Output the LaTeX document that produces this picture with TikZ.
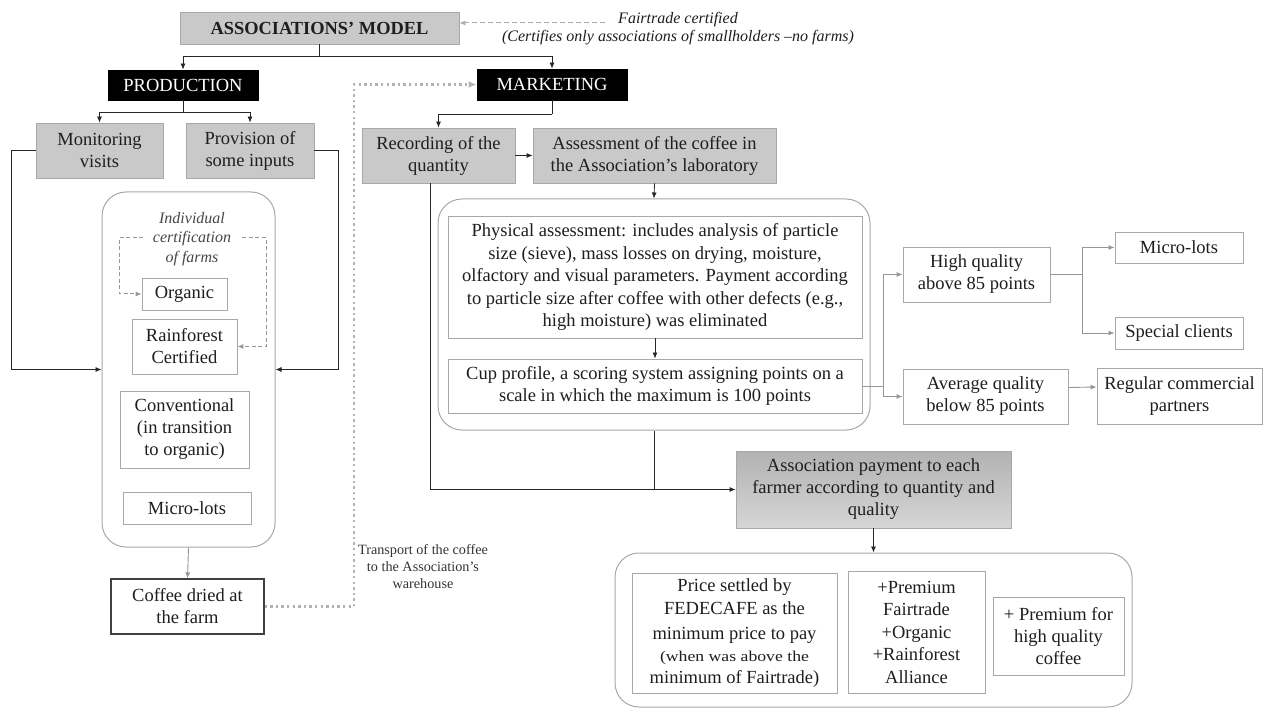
\documentclass[tikz,border=0pt]{standalone}
\usepackage{fontspec}
\setmainfont{Liberation Serif}
\newfontfamily\wideserif[FakeStretch=1.18]{Liberation Serif}
\usetikzlibrary{arrows.meta,calc}

\definecolor{boxgray}{RGB}{201,201,201}
\definecolor{edgegray}{RGB}{168,168,168}
\definecolor{linegray}{RGB}{150,150,150}
\definecolor{dotgray}{RGB}{178,178,178}
\definecolor{inkgray}{RGB}{30,30,30}
\definecolor{shadetop}{RGB}{178,178,178}
\definecolor{shadebot}{RGB}{214,214,214}

\begin{document}
\begin{tikzpicture}[x=1pt,y=-1pt,
  every node/.style={inner sep=0pt, align=center, text=inkgray,
    font=\fontsize{18.5}{22}\selectfont},
  graybox/.style={draw=edgegray, fill=boxgray, line width=0.8pt},
  blackbox/.style={draw=black, fill=black, text=white, line width=0.8pt},
  framebox/.style={draw=edgegray, fill=white, line width=0.9pt},
  container/.style={draw=edgegray, rounded corners=24pt, line width=1pt},
  link/.style={draw=black!85, line width=0.8pt},
  tip/.style={-{Latex[length=6pt,width=5pt]}},
  grayline/.style={draw=linegray, line width=0.9pt},
  grayarr/.style={grayline, -{Latex[length=6pt,width=5pt]}},
  certdash/.style={draw=linegray, line width=1pt, dash pattern=on 4pt off 2.5pt,
    -{Latex[length=6pt,width=5pt]}},
  topdash/.style={draw=linegray!80, line width=1pt, dash pattern=on 5pt off 3pt,
    -{Latex[length=6pt,width=5pt]}},
  dotline/.style={draw=dotgray, line width=2.4pt, dash pattern=on 2.4pt off 3.2pt,
    -{Latex[length=8pt,width=7pt]}},
]
\useasboundingbox (0,0) rectangle (1273,708);

% ---------- top level ----------
\node[graybox, minimum width=279, minimum height=32,
      font=\bfseries\fontsize{18.4}{22}\selectfont] (assoc) at (319.5,28) {ASSOCIATIONS’ MODEL};
\node[font=\itshape\fontsize{16}{18}\selectfont] (fair) at (678,29)
  {Fairtrade certified\\(Certifies only associations of smallholders –no farms)};
\coordinate (fairEnd) at (605,23);

\node[blackbox, minimum width=150, minimum height=30] (prod) at (183,85) {PRODUCTION};
\node[blackbox, minimum width=150, minimum height=31] (mark) at (552,84.5) {MARKETING};

% ---------- production branch ----------
\node[graybox, minimum width=127, minimum height=55] (mon) at (99.5,150.5) {Monitoring\\visits};
\node[graybox, minimum width=128, minimum height=55] (prov) at (250,150.5) {Provision of\\some inputs};

\node[container, minimum width=173, minimum height=355] (farms) at (188.5,369.5) {};
\node[font=\itshape\fontsize{16}{19.5}\selectfont, text=black!72] (certtxt) at (192,239)
  {Individual\\certification\\of farms};
\coordinate (certL) at (143,238);
\coordinate (certR) at (242,238);
\node[framebox, minimum width=85, minimum height=32] (organic) at (184.5,294) {Organic};
\node[framebox, minimum width=105, minimum height=55] (rain) at (184.5,346.5) {Rainforest\\Certified};
\node[framebox, minimum width=129, minimum height=77] (conv) at (184.5,429.5)
  {Conventional\\(in transition\\to organic)};
\node[framebox, minimum width=128, minimum height=32] (lotsL) at (187,508) {Micro-lots};

\node[draw=black!75, fill=white, line width=1.2pt, minimum width=153, minimum height=55]
  (dried) at (187.5,606.5) {Coffee dried at\\the farm};
\node[font=\fontsize{14.2}{17}\selectfont, text=black!80] (transp) at (423,567)
  {Transport of the coffee\\to the Association’s\\warehouse};
\coordinate (dotBend) at (354,84.5);

% ---------- marketing branch ----------
\node[graybox, minimum width=153, minimum height=55] (rec) at (438.5,155.5) {Recording of the\\quantity};
\node[graybox, minimum width=243, minimum height=55] (assess) at (654.5,155.5)
  {Assessment of the coffee in\\the Association’s laboratory};

\node[container, minimum width=432, minimum height=231] (lab) at (654,314.5) {};
\node[framebox, minimum width=414, minimum height=122, font=\fontsize{18.5}{22.5}\selectfont]
  (phys) at (655,277)
  {Physical assessment: includes analysis of particle\\size (sieve), mass losses on drying, moisture,\\olfactory and visual parameters. Payment according\\to particle size after coffee with other defects (e.g.,\\high moisture) was eliminated};
\node[framebox, minimum width=414, minimum height=54] (cup) at (655,386)
  {Cup profile, a scoring system assigning points on a\\scale in which the maximum is 100 points};

\node[framebox, minimum width=147, minimum height=55] (high) at (976.5,274.5) {High quality\\above 85 points};
\node[framebox, minimum width=165, minimum height=55] (avg) at (985.5,396.5) {Average quality\\below 85 points};
\node[framebox, minimum width=128, minimum height=31] (lotsR) at (1179,247.5) {Micro-lots};
\node[framebox, minimum width=128, minimum height=32] (special) at (1179,333) {Special clients};
\node[framebox, minimum width=165, minimum height=56] (regular) at (1179.5,396) {Regular commercial\\partners};

\node[draw=edgegray, line width=0.8pt, top color=shadetop, bottom color=shadebot,
      minimum width=275, minimum height=77] (pay) at (873.5,489.5)
  {Association payment to each\\farmer according to quantity and\\quality};

\node[container, minimum width=517, minimum height=154] (prices) at (873.5,630) {};
\node[framebox, minimum width=205, minimum height=120] (price) at (734.5,633)
  {Price settled by\\[1.5pt]FEDECAFE as the\\[2.5pt]minimum price to pay\\[0pt]\wideserif\fontsize{15}{20}\selectfont (when was above the\\minimum of Fairtrade)};
\node[framebox, minimum width=137, minimum height=122, font=\fontsize{18.5}{22.5}\selectfont]
  (premium) at (916.5,632) {+Premium\\Fairtrade\\+Organic\\+Rainforest\\Alliance};
\node[framebox, minimum width=131, minimum height=78] (hq) at (1058.5,636)
  {+ Premium for\\high quality\\coffee};

% ---------- connectors ----------
\draw[topdash] (fairEnd) -- (assoc.east |- fairEnd);

\draw[link] (assoc.south) -- ++(0,12) coordinate (assocJ);
\draw[link, tip] (assocJ) -| (prod.north);
\draw[link, tip] (assocJ) -| (mark.north);

\draw[link] (prod.south) -- ++(0,12) coordinate (prodJ);
\draw[link, tip] (prodJ) -| (mon.north);
\draw[link, tip] (prodJ) -| (prov.north);

\draw[link, tip] (mon.west) -- ++(-24,0) |- (farms.west);
\draw[link, tip] (prov.east) -- ++(24,0) |- (farms.east);

\draw[certdash] (certL) -- ++(-24,0) |- (organic.west);
\draw[certdash] (certR) -- ++(24,0) |- (rain.east);

\draw[grayarr] (farms.south) -- (dried.north);
\draw[dotline] (dried.east) -| (dotBend) -- (mark.west);

\draw[link] (mark.south) -- ++(0,14) coordinate (markJ);
\draw[link, tip] (markJ) -| (rec.north);
\draw[link, tip] (rec.east) -- (assess.west);
\draw[link, tip] (assess.south) -- (lab.north);
\draw[link, tip] (phys.south) -- (cup.north);

\draw[grayline] (cup.east) -- ++(21,0) coordinate (cupJ);
\draw[grayarr] (cupJ) |- (high.west);
\draw[grayarr] (cupJ) |- (avg.west);
\draw[grayline] (high.east) -- ++(32,0) coordinate (highJ);
\draw[grayarr] (highJ) |- (lotsR.west);
\draw[grayarr] (highJ) |- (special.west);
\draw[grayarr] ([yshift=9pt]avg.east) -- ([yshift=9pt]regular.west);

\draw[link, tip] ([xshift=-8pt]rec.south) |- (pay.west);
\draw[link] (lab.south) -- (lab.south |- pay.west);
\draw[link, tip] (pay.south) -- (prices.north);
\end{tikzpicture}
\end{document}
